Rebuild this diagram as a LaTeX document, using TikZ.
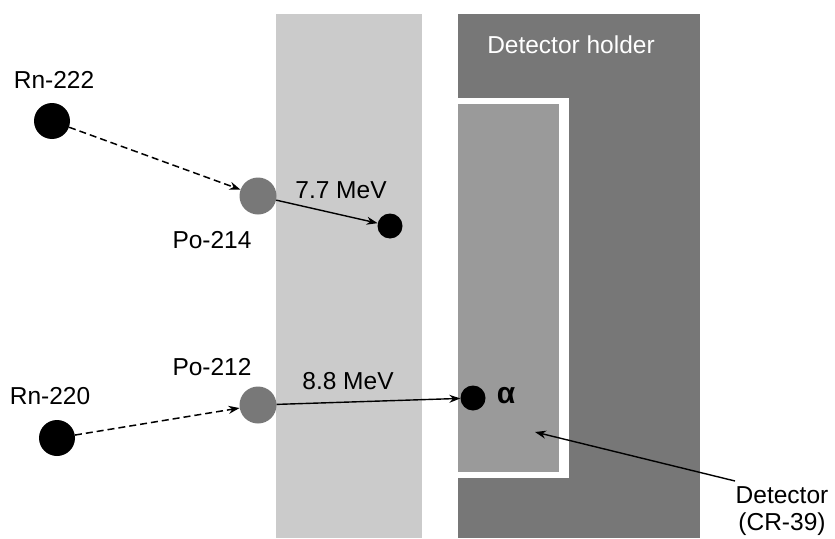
\documentclass[tikz,border=0pt]{standalone}
\usepackage{fontspec}
\setmainfont{Liberation Sans}
\usetikzlibrary{positioning,arrows.meta}
\definecolor{slab}{HTML}{CBCBCB}
\definecolor{holder}{HTML}{777777}
\definecolor{crgray}{HTML}{9A9A9A}
\definecolor{pogray}{HTML}{787878}

\begin{document}
\begin{tikzpicture}[x=1pt, y=-1pt, >={Stealth[length=11pt,width=8pt]},
    font=\fontsize{24.5}{27}\selectfont,
    rn/.style={circle, fill=black, minimum size=36pt, inner sep=0pt},
    po/.style={circle, fill=pogray, minimum size=37pt, inner sep=0pt},
    alph/.style={circle, fill=black, minimum size=25pt, inner sep=0pt},
    decay/.style={->, line width=1.5pt, dash pattern=on 7pt off 4pt},
    emit/.style={->, line width=1.4pt}]
    \useasboundingbox (0,0) rectangle (835,538);
    % slab and holder
    \fill[slab] (276,14) rectangle (422,538);
    \fill[holder] (458,14) rectangle (700,538);
    \fill[white] (458,98) rectangle (569,478);
    \fill[crgray] (458,104) rectangle (559,472);
    \node[white] (hold) at (571,45) {Detector holder};
    % Rn-222 chain
    \node[rn] (rn222) at (52,121) {};
    \node (rn222l) at (54,80) {Rn-222};
    \node[po] (po214) at (258,196) {};
    \node (po214l) at (212,240) {Po-214};
    \node[alph] (a77) at (390,226) {};
    \node (e77) at (341,190) {7.7 MeV};
    \draw[decay] (rn222) -- (po214);
    \draw[emit] (po214) -- (a77);
    % Rn-220 chain
    \node[rn] (rn220) at (57,438) {};
    \node (rn220l) at (50,396) {Rn-220};
    \node[po] (po212) at (258,405) {};
    \node (po212l) at (212,367) {Po-212};
    \node[alph] (a88) at (473,398) {};
    \node[font=\fontsize{30}{30}\selectfont] (alab) at (506,396) {\bfseries α};
    \node (e88) at (348,381) {8.8 MeV};
    \draw[decay] (rn220) -- (po212);
    \draw[emit] (po212) -- (a88);
    % detector label
    \node[align=center, inner sep=1pt] (det) at (782,511) {Detector\\(CR-39)};
    \coordinate (detpt) at (735,481);
    \coordinate (tip) at (535,432);
    \draw[emit] (detpt) -- (tip);
\end{tikzpicture}
\end{document}
